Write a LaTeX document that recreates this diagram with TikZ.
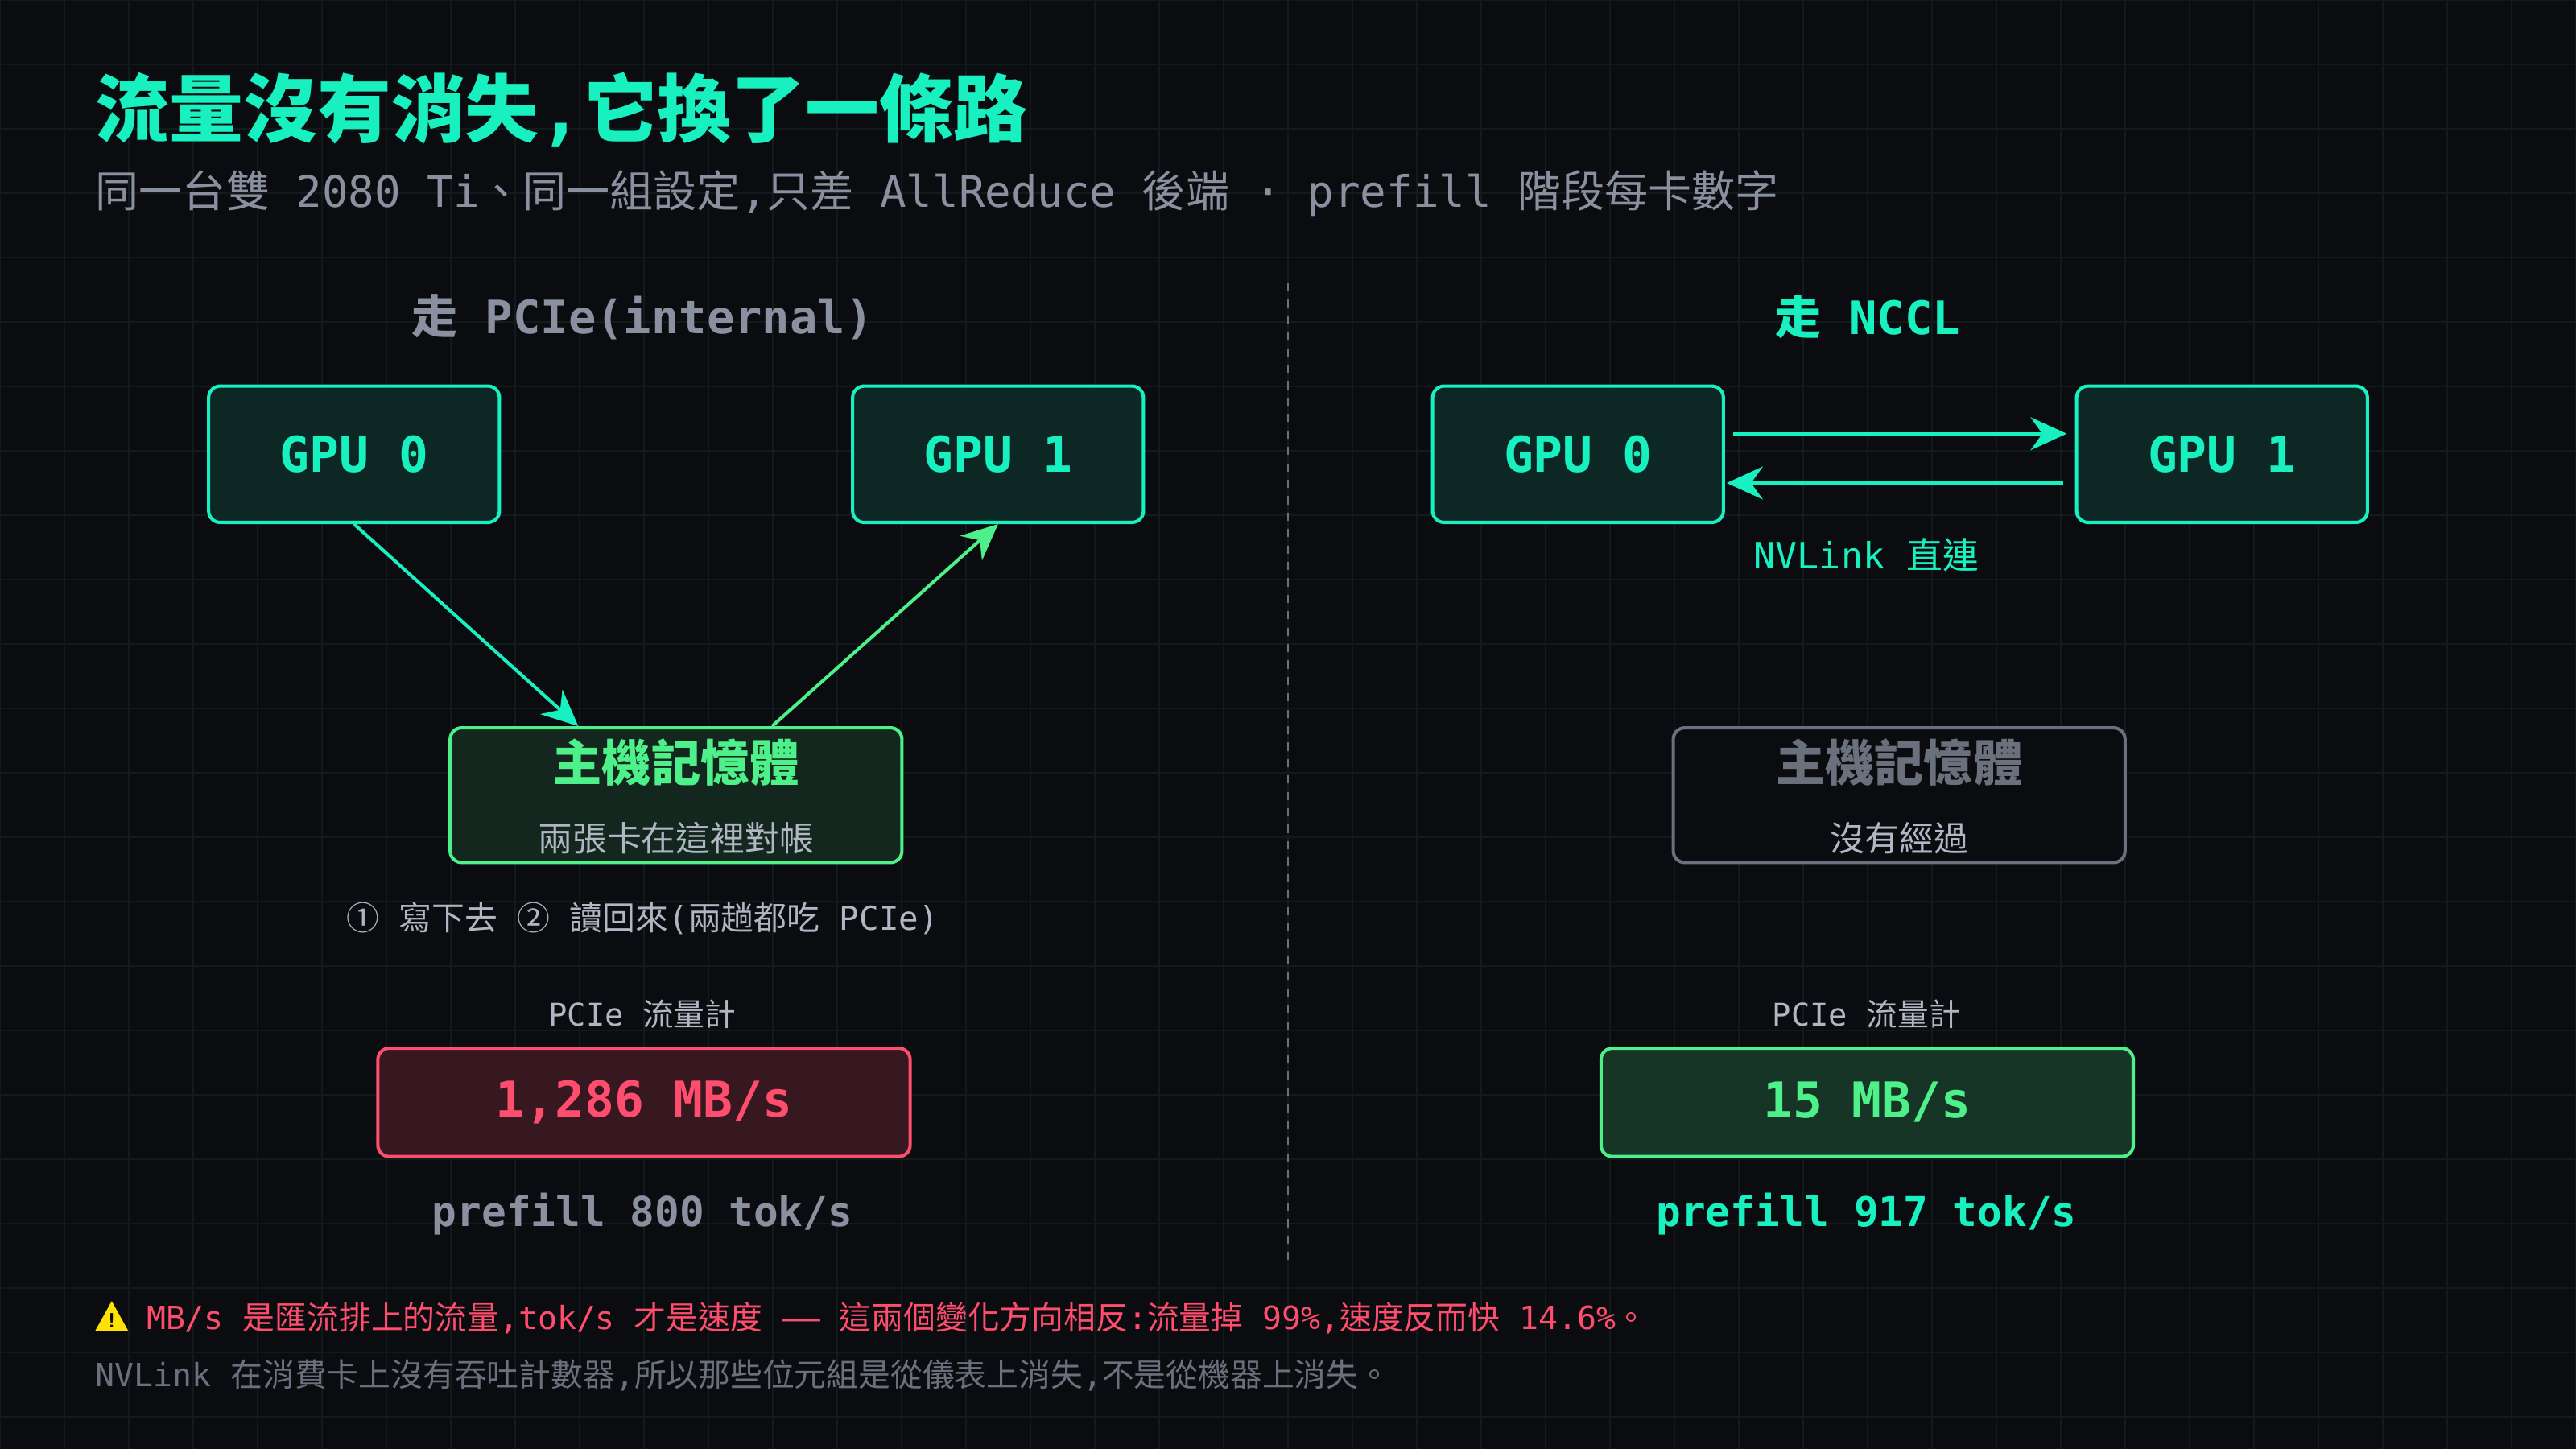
\documentclass[tikz,border=0pt]{standalone}
\usepackage{fontspec}
\setmainfont{DejaVu Sans Mono}
\newfontfamily\cjk{Noto Sans CJK TC}
\XeTeXinterchartokenstate=1
\newXeTeXintercharclass\CJKcls
\count255="2460
\loop \XeTeXcharclass\count255=\CJKcls \ifnum\count255<"24FF \advance\count255 by 1 \repeat
\count255="3000
\loop \XeTeXcharclass\count255=\CJKcls \ifnum\count255<"9FFF \advance\count255 by 1 \repeat
\count255="FF00
\loop \XeTeXcharclass\count255=\CJKcls \ifnum\count255<"FFEF \advance\count255 by 1 \repeat
\XeTeXinterchartoks 0 \CJKcls = {\begingroup\cjk}
\XeTeXinterchartoks 4095 \CJKcls = {\begingroup\cjk}
\XeTeXinterchartoks \CJKcls 0 = {\endgroup}
\XeTeXinterchartoks \CJKcls 4095 = {\endgroup}
\usetikzlibrary{arrows.meta}
\definecolor{bg}{HTML}{0B0C10}
\definecolor{gridc}{HTML}{111B1B}
\definecolor{teal}{HTML}{19F0C0}
\definecolor{grn}{HTML}{4EF08A}
\definecolor{gray}{HTML}{8A90A0}
\definecolor{lgray}{HTML}{B0B6C2}
\definecolor{dgray}{HTML}{6A707C}
\definecolor{red}{HTML}{FF4D6D}
\begin{document}
\begin{tikzpicture}[x=1pt,y=-1pt,
  gpu/.style={draw=teal,line width=2pt,fill=teal!12!bg,rounded corners=7pt,minimum width=177pt,minimum height=83pt,text=teal,font=\bfseries\fontsize{30}{32}\selectfont},
  host/.style={draw=#1,line width=2pt,rounded corners=7pt,minimum width=275pt,minimum height=82pt},
  meter/.style={draw=#1,line width=2pt,fill=#1!18!bg,rounded corners=7pt,minimum width=324pt,minimum height=66pt,text=#1,font=\bfseries\fontsize{30}{32}\selectfont},
  lbl/.style={font=\fontsize{19}{21}\selectfont,text=lgray},
  arr/.style={line width=2pt,-{Stealth[length=22pt,width=20pt]}}]
\useasboundingbox (0,0) rectangle (1568,882);
\fill[bg] (0,0) rectangle (1568,882);
\foreach \i in {0,...,40} \draw[gridc,line width=0.8pt] (\i*39.2,0) -- (\i*39.2,882);
\foreach \i in {0,...,23} \draw[gridc,line width=0.8pt] (0,\i*39.2) -- (1568,\i*39.2);
% titles
\node[anchor=base west,inner sep=0,text=teal,font=\bfseries\fontsize{45}{47}\selectfont] (title) at (58,83) {流量沒有消失,它換了一條路};
\node[anchor=base west,inner sep=0,text=gray,font=\fontsize{26.5}{28}\selectfont] (sub) at (58,126) {同一台雙 2080 Ti、同一組設定,只差 AllReduce 後端 · prefill 階段每卡數字};
\node[text=gray,font=\bfseries\fontsize{28}{30}\selectfont] (hl) at (391,193) {走 PCIe(internal)};
\node[text=teal,font=\bfseries\fontsize{28}{30}\selectfont] (hr) at (1137,193) {走 NCCL};
\draw[dgray,line width=1.2pt,dash pattern=on 5pt off 5pt] (784,172) -- (784,772);
% left
\node[gpu] (l0) at (215.5,276.5) {GPU 0};
\node[gpu] (l1) at (607.5,276.5) {GPU 1};
\node[host=grn,fill=grn!12!bg] (lh) at (411.5,484) {};
\node[text=grn,font=\bfseries\fontsize{30}{32}\selectfont] (lht) at (411.5,464) {主機記憶體};
\node[text=lgray,font=\fontsize{21}{23}\selectfont] (lhs) at (411.5,510) {兩張卡在這裡對帳};
\draw[arr,teal] (l0.south) -- (lh.north -| 352,0);
\draw[arr,grn] (lh.north -| 470,0) -- (l1.south);
\node[lbl,font=\fontsize{20}{22}\selectfont] (cap) at (391,559) {① 寫下去 ② 讀回來(兩趟都吃 PCIe)};
\node[lbl] (ml) at (391,617) {PCIe 流量計};
\node[meter=red] (rl) at (392,671) {1,286 MB/s};
\node[text=gray,font=\bfseries\fontsize{25}{27}\selectfont] (pl) at (391,739) {prefill 800 tok/s};
% right
\node[gpu] (r0) at (960.5,276.5) {GPU 0};
\node[gpu] (r1) at (1352.5,276.5) {GPU 1};
\coordinate (a1) at (1055,264); \coordinate (a2) at (1258,264);
\coordinate (b1) at (1256,294); \coordinate (b2) at (1051,294);
\draw[arr,teal] (a1) -- (a2);
\draw[arr,teal] (b1) -- (b2);
\node[text=teal,font=\fontsize{22}{24}\selectfont] (nv) at (1136,338) {NVLink 直連};
\node[host=dgray,fill=bg] (rh) at (1156,484) {};
\node[text=dgray,font=\bfseries\fontsize{30}{32}\selectfont] (rht) at (1156,464) {主機記憶體};
\node[text=lgray,font=\fontsize{21}{23}\selectfont] (rhs) at (1156,510) {沒有經過};
\node[lbl] (mr) at (1136,617) {PCIe 流量計};
\node[meter=grn] (rr) at (1136.5,671) {15 MB/s};
\node[text=teal,font=\bfseries\fontsize{25}{27}\selectfont] (pr) at (1136,739) {prefill 917 tok/s};
% footer
\fill[yellow!85!orange] (58,810) -- (78,810) -- (68,792) -- cycle;
\node[font=\bfseries\fontsize{12}{12}\selectfont,text=bg,inner sep=0] (ex) at (68,804) {!};
\node[anchor=base west,inner sep=0,text=red,font=\fontsize{19.5}{21}\selectfont] (f1) at (89,809) {MB/s 是匯流排上的流量,tok/s 才是速度 —— 這兩個變化方向相反:流量掉 99\%,速度反而快 14.6\%。};
\node[anchor=base west,inner sep=0,text=dgray,font=\fontsize{19.5}{21}\selectfont] (f2) at (58,844) {NVLink 在消費卡上沒有吞吐計數器,所以那些位元組是從儀表上消失,不是從機器上消失。};
\end{tikzpicture}
\end{document}
